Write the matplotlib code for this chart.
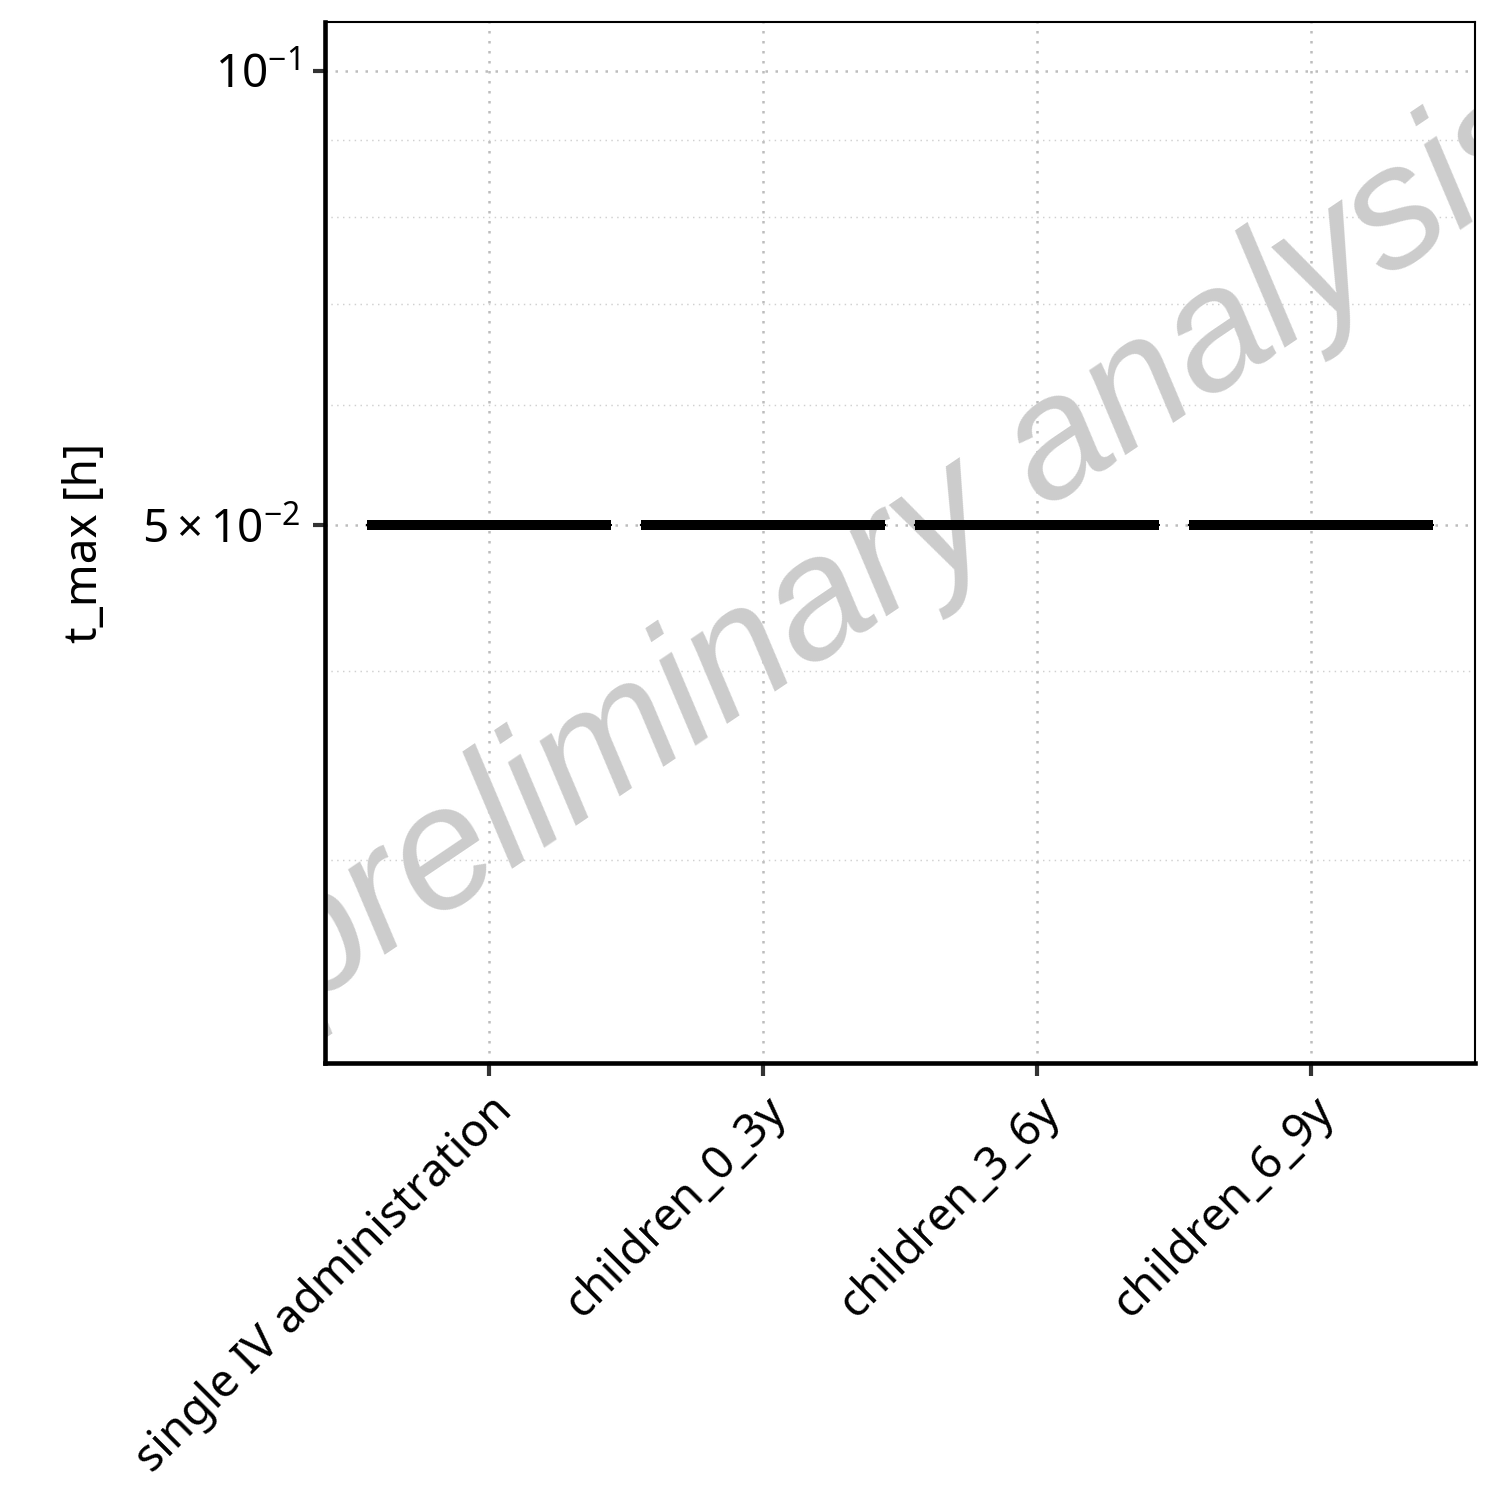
import matplotlib
matplotlib.use("Agg")
import matplotlib.pyplot as plt
from matplotlib.ticker import FixedLocator, NullFormatter, FixedFormatter

plt.rcParams['font.family'] = ['Noto Sans', 'DejaVu Sans']
plt.rcParams['mathtext.fontset'] = 'custom'
plt.rcParams['mathtext.rm'] = 'Noto Sans'
plt.rcParams['mathtext.it'] = 'Noto Sans:italic'

categories = ["single IV administration", "children_0_3y", "children_3_6y", "children_6_9y"]
tmax_values = [
    [0.05, 0.05, 0.05, 0.05, 0.05],
    [0.05, 0.05, 0.05, 0.05, 0.05],
    [0.05, 0.05, 0.05, 0.05, 0.05],
    [0.05, 0.05, 0.05, 0.05, 0.05],
]
y_major_ticks = [0.05, 0.1]
y_major_labels = [r"$5\times10^{-2}$", r"$10^{-1}$"]
y_minor_ticks = [0.03, 0.04, 0.06, 0.07, 0.08, 0.09]
ylabel = "t_max [h]"
watermark = "preliminary analysis"

fig = plt.figure(figsize=(5, 5), dpi=300)
ax = fig.add_axes([0.2167, 0.2913, 0.7666, 0.694])
ax.set_yscale('log')

positions = list(range(len(categories)))
ax.boxplot(tmax_values, positions=positions, widths=0.89, showcaps=False,
           showfliers=False, patch_artist=False,
           boxprops=dict(color='black', linewidth=0.5),
           whiskerprops=dict(color='black', linewidth=0.5),
           medianprops=dict(color='black', linewidth=2.4, solid_capstyle='butt'),
           zorder=3)

ax.set_xlim(-0.6, 3.6)
ax.set_ylim(0.0220, 0.1077)

ax.yaxis.set_major_locator(FixedLocator(y_major_ticks))
ax.yaxis.set_major_formatter(FixedFormatter(y_major_labels))
ax.yaxis.set_minor_locator(FixedLocator(y_minor_ticks))
ax.yaxis.set_minor_formatter(NullFormatter())
ax.set_xticks(positions)
ax.set_xticklabels(categories, rotation=45, ha='right', va='top', rotation_mode='anchor')

ax.tick_params(axis='both', which='major', length=3, width=1.0, color='#333333',
               labelsize=11, labelcolor='black', pad=3)
ax.tick_params(axis='y', which='minor', length=0)

ax.grid(True, which='major', axis='both', linestyle=(0, (1, 3)), linewidth=0.6, color='#bdbdbd', zorder=0)
ax.grid(True, which='minor', axis='y', linestyle=(0, (1, 3)), linewidth=0.35, color='#d0d0d0', zorder=0)
ax.set_axisbelow(True)

for s in ['left', 'bottom']:
    ax.spines[s].set_linewidth(1.1)
for s in ['top', 'right']:
    ax.spines[s].set_linewidth(0.5)
for s in ax.spines.values():
    s.set_color('black')

ax.set_ylabel(ylabel, fontsize=11, labelpad=8)

ax.text(0.507, 0.492, watermark, transform=ax.transAxes, rotation=34, fontsize=41.5,
        family='Liberation Sans', style='italic', color='#cccccc',
        ha='center', va='center', rotation_mode='anchor', zorder=1, clip_on=True)

fig.savefig("out.png", dpi=300)
